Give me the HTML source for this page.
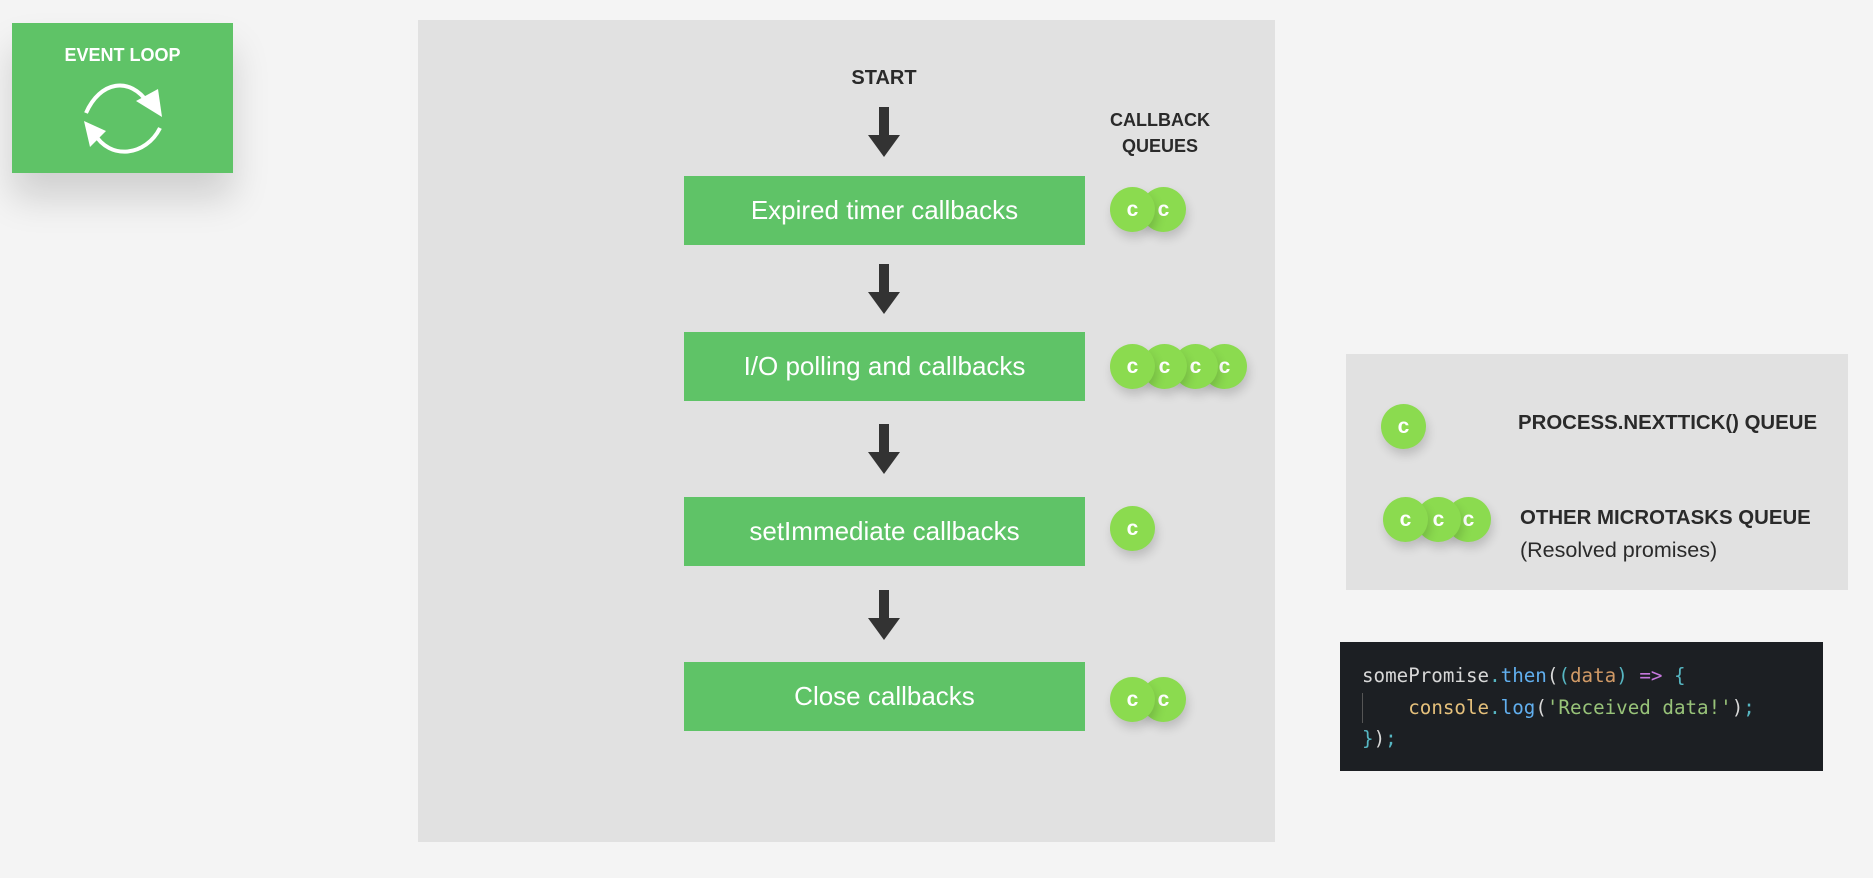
<!DOCTYPE html>
<html><head><meta charset="utf-8"><style>
body{margin:0;width:1873px;height:878px;background:#f4f4f4;position:relative;overflow:hidden;font-family:"Liberation Sans",sans-serif}
.a{position:absolute}
.box{position:absolute;left:684px;width:401px;height:69px;background:#5fc367;color:#fff;font-size:26px;display:flex;align-items:center;justify-content:center}
.c{position:absolute;width:45px;height:45px;border-radius:50%;background:#8bdb4f;color:#fff;font-weight:bold;font-size:21px;display:flex;align-items:center;justify-content:center;box-shadow:2px 6px 10px rgba(0,0,0,.16)}
.arr{position:absolute;left:868px;width:32px;height:50px}
.lbl{position:absolute;font-weight:bold;color:#2a2a2a;font-size:20.4px}
.code{font-family:"DejaVu Sans Mono","Liberation Mono",monospace;font-size:19.2px;position:absolute;left:1362px;white-space:pre;color:#d8d8d8}
</style></head><body>
<div class="a" style="left:12px;top:23px;width:221px;height:150px;background:#5fc367;box-shadow:0 25px 35px rgba(0,0,0,.15)">
<div class="a" style="left:0;width:221px;top:22px;text-align:center;color:#fff;font-weight:bold;font-size:18px">EVENT LOOP</div>
<svg class="a" style="left:58px;top:38px" width="100" height="100" viewBox="0 0 100 100">
<path d="M16 52 C30 20 60 15 78 42" fill="none" stroke="#fff" stroke-width="4"/>
<polygon points="66,40 92,56 88,28" fill="#fff"/>
<path d="M90 67 C76 95 40 100 24 72" fill="none" stroke="#fff" stroke-width="4"/>
<polygon points="14,60 20,86 36,70" fill="#fff"/>
</svg></div>
<div class="a" style="left:418px;top:20px;width:857px;height:822px;background:#e1e1e1"></div>
<div class="lbl" style="left:834px;top:67px;width:100px;text-align:center;font-size:20px">START</div>
<div class="lbl" style="left:1100px;top:107px;width:120px;text-align:center;line-height:26px;font-size:18px">CALLBACK<br>QUEUES</div>
<svg width="0" height="0"><defs><g id="ar"><rect x="11" y="0" width="10" height="30" fill="#333"/><polygon points="0,28 32,28 16,50" fill="#333"/></g></defs></svg>
<svg class="arr" style="top:107px"><use href="#ar"/></svg>
<svg class="arr" style="top:264px"><use href="#ar"/></svg>
<svg class="arr" style="top:424px"><use href="#ar"/></svg>
<svg class="arr" style="top:590px"><use href="#ar"/></svg>
<div class="box" style="top:176px">Expired timer callbacks</div>
<div class="box" style="top:332px">I/O polling and callbacks</div>
<div class="box" style="top:497px">setImmediate callbacks</div>
<div class="box" style="top:662px">Close callbacks</div>
<div class="c" style="left:1141px;top:187px;z-index:1">c</div><div class="c" style="left:1110px;top:187px;z-index:2">c</div>
<div class="c" style="left:1202px;top:344px;z-index:1">c</div><div class="c" style="left:1173px;top:344px;z-index:2">c</div><div class="c" style="left:1142px;top:344px;z-index:3">c</div><div class="c" style="left:1110px;top:344px;z-index:4">c</div>
<div class="c" style="left:1110px;top:506px">c</div>
<div class="c" style="left:1141px;top:677px;z-index:1">c</div><div class="c" style="left:1110px;top:677px;z-index:2">c</div>
<div class="a" style="left:1346px;top:354px;width:502px;height:236px;background:#e1e1e1"></div>
<div class="c" style="left:1381px;top:404px">c</div>
<div class="lbl" style="left:1518px;top:412px">PROCESS.NEXTTICK() QUEUE</div>
<div class="c" style="left:1446px;top:497px;z-index:1">c</div><div class="c" style="left:1416px;top:497px;z-index:2">c</div><div class="c" style="left:1383px;top:497px;z-index:3">c</div>
<div class="lbl" style="left:1520px;top:507px">OTHER MICROTASKS QUEUE</div>
<div class="a" style="left:1520px;top:538px;font-size:21.5px;color:#2a2a2a">(Resolved promises)</div>
<div class="a" style="left:1340px;top:642px;width:483px;height:129px;background:#1c1f23"></div>
<div class="a" style="left:1362px;top:693px;width:1px;height:30px;background:#555"></div>
<div class="code" style="top:664px">somePromise<span style="color:#56b6c2">.</span><span style="color:#61afef">then</span><span style="color:#d8d8d8">(</span><span style="color:#56b6c2">(</span><span style="color:#d19a66">data</span><span style="color:#56b6c2">)</span> <span style="color:#c678dd">=&gt;</span> <span style="color:#56b6c2">{</span></div>
<div class="code" style="top:696px">    <span style="color:#e5c07b">console</span><span style="color:#56b6c2">.</span><span style="color:#61afef">log</span>(<span style="color:#98c379">'Received data!'</span>)<span style="color:#56b6c2">;</span></div>
<div class="code" style="top:727px"><span style="color:#56b6c2">}</span>)<span style="color:#56b6c2">;</span></div>
</body></html>
